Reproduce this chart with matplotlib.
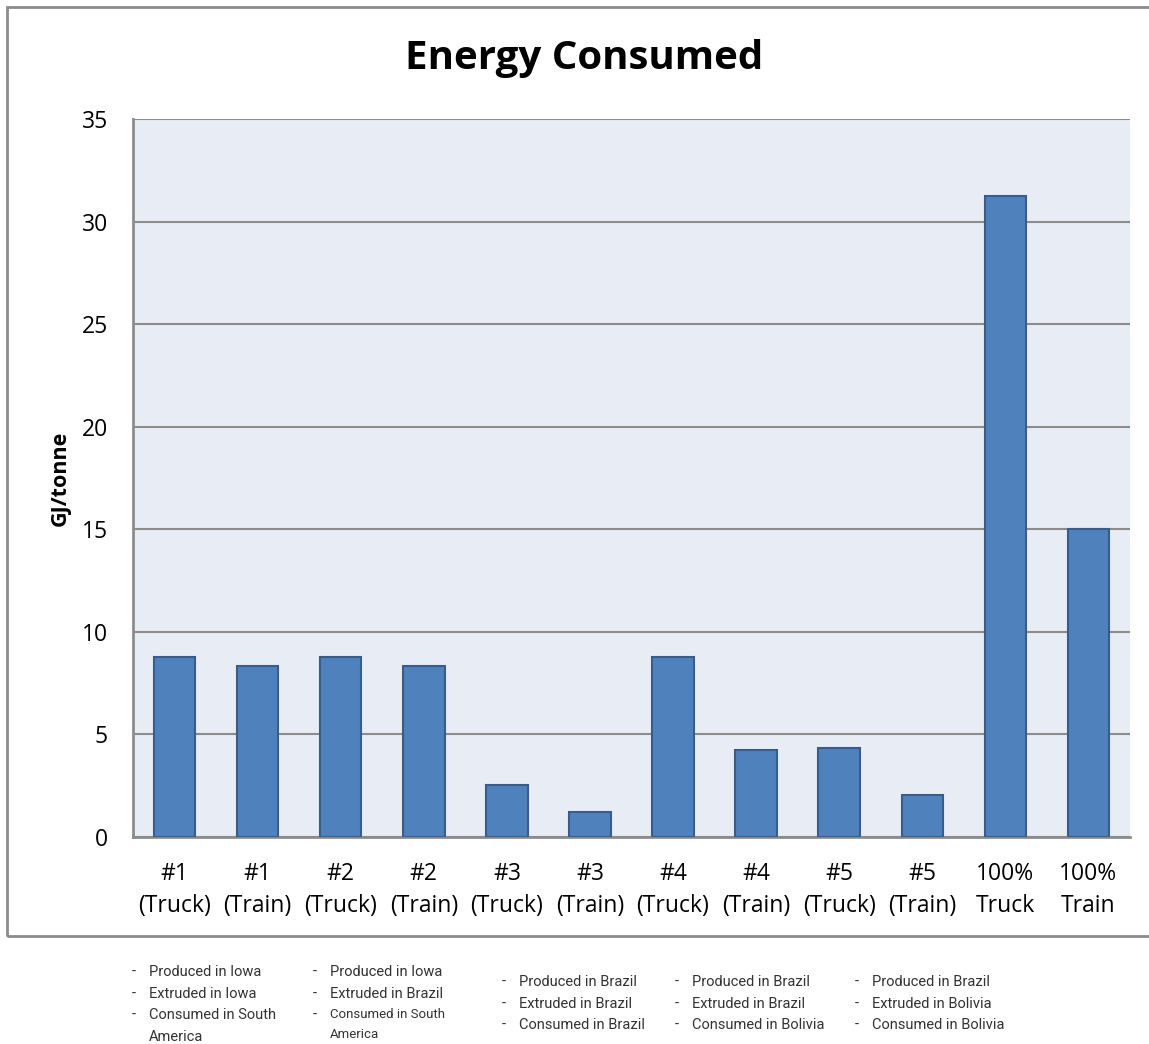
import matplotlib
matplotlib.use("Agg")
import matplotlib.pyplot as plt
from matplotlib.patches import Rectangle

# Energy consumed per scenario (GJ/tonne)
categories = ["#1\n(Truck)", "#1\n(Train)", "#2\n(Truck)", "#2\n(Train)",
              "#3\n(Truck)", "#3\n(Train)", "#4\n(Truck)", "#4\n(Train)",
              "#5\n(Truck)", "#5\n(Train)", "100%\nTruck", "100%\nTrain"]
energy = [8.78, 8.34, 8.78, 8.34, 2.54, 1.22, 8.78, 4.24, 4.34, 2.05, 31.25, 15.0]
yticks = [0, 5, 10, 15, 20, 25, 30, 35]

# Scenario notes shown beneath the chart
notes = [
    ["Produced in Iowa", "Extruded in Iowa", "Consumed in South\nAmerica"],
    ["Produced in Iowa", "Extruded in Brazil", "Consumed in South\nAmerica"],
    ["Produced in Brazil", "Extruded in Brazil", "Consumed in Brazil"],
    ["Produced in Brazil", "Extruded in Brazil", "Consumed in Bolivia"],
    ["Produced in Brazil", "Extruded in Bolivia", "Consumed in Bolivia"],
]

W, H = 1149, 1044
fig = plt.figure(figsize=(W / 100, H / 100), dpi=100)
fig.patch.set_facecolor("white")

# Outer chart frame
frame = Rectangle((7 / W, 1 - 936 / H), (W + 20) / W, (936 - 7) / H,
                  transform=fig.transFigure, fill=False,
                  edgecolor="#8c8c8c", linewidth=2, zorder=0)
fig.patches.append(frame)

ax = fig.add_axes([133 / W, 1 - 837 / H, (1130 - 133) / W, (837 - 119) / H])
ax.set_facecolor("#e8ecf4")
ax.bar(range(len(energy)), energy, width=0.5, color="#4f81bd",
       edgecolor="#385d8a", linewidth=1.5, zorder=3)
ax.set_xlim(-0.5, len(energy) - 0.5)
ax.set_ylim(0, 35)
ax.set_yticks(yticks)
ax.yaxis.grid(True, color="#8c8c8c", linewidth=1.5, zorder=1)
ax.set_axisbelow(True)
ax.set_xticks(range(len(categories)))
ax.set_xticklabels(categories, fontsize=16.5, family="Open Sans", linespacing=1.45)
ax.tick_params(axis="y", labelsize=16.5, length=0, pad=18)
ax.tick_params(axis="x", length=0, pad=18)
for lbl in ax.get_yticklabels():
    lbl.set_family("Open Sans")
for side in ["top", "right"]:
    ax.spines[side].set_visible(False)
ax.spines["left"].set_color("#8c8c8c")
ax.spines["left"].set_linewidth(2)
ax.spines["bottom"].set_color("#8c8c8c")
ax.spines["bottom"].set_linewidth(2)

fig.text(60 / W, 1 - 478 / H, "GJ/tonne", rotation=90, ha="center", va="center",
         fontsize=15.5, fontweight="bold", family="Open Sans")

fig.text(584 / W, 1 - 58 / H, "Energy Consumed", ha="center", va="center",
         fontsize=29, fontweight="bold", family="Open Sans")

# Notes below the chart, one column per scenario group
col_x = [132, 313, 502, 675, 855]
col_y = [972, 972, 982, 982, 982]
col_fs = [10.5, 10.5, 10.5, 10.5, 10.5]
for ci, (cx, cy, items) in enumerate(zip(col_x, col_y, notes)):
    y = cy
    for item in items:
        fig.text(cx / W, 1 - y / H, "-", ha="left", va="center",
                 fontsize=10.5, family="Roboto", color="#333333")
        lines = item.split("\n")
        for k, line in enumerate(lines):
            fs = 9.5 if (ci == 1 and len(lines) > 1) else col_fs[ci]
            fig.text((cx + 17) / W, 1 - y / H, line, ha="left", va="center",
                     fontsize=fs, family="Roboto", color="#333333")
            if k < len(lines) - 1:
                y += 20 if ci == 1 else 22
        y += 21.5

fig.savefig("out.png", dpi=100, facecolor="white")
